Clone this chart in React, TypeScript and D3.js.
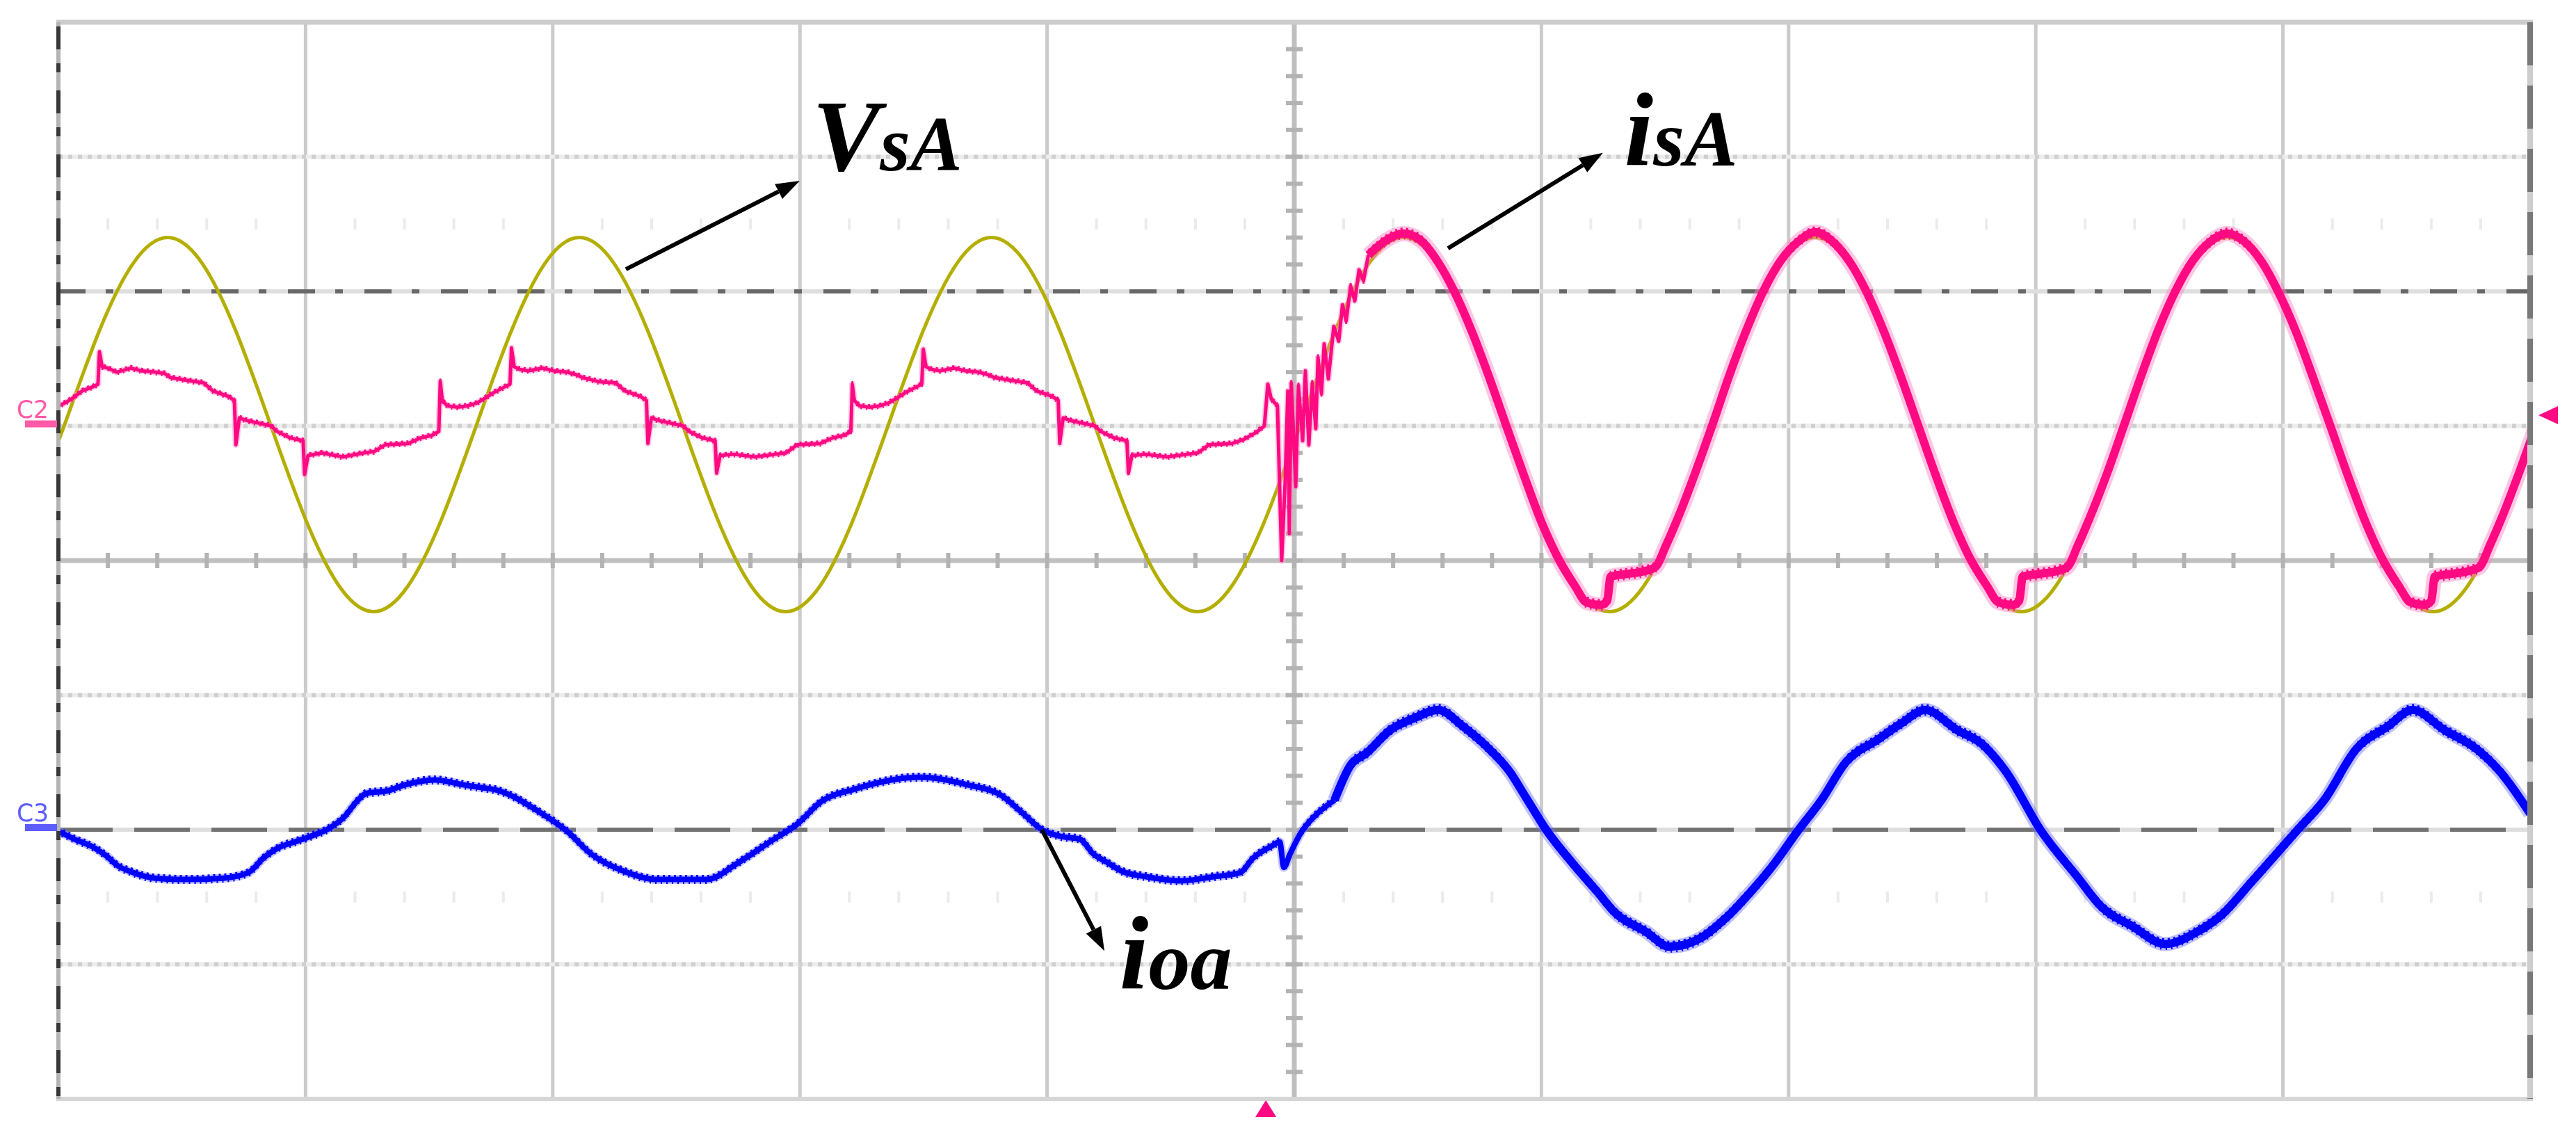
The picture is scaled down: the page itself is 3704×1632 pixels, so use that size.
import React from "react";
import * as d3 from "d3";

// ---- axes: time in ms (10 ms/div), amplitude in divisions ----
const timeGrid = [0, 10, 20, 30, 40, 50, 60, 70, 80, 90, 100];
const divGrid = [-4, -3, -2, -1, 0, 1, 2, 3, 4];

// ---- source voltage VsA (yellow) [t ms, div] ----
const vsA: [number, number][] = [
  [-1.14, 0.32], [0.25, 1.01], [1.64, 1.7], [3.03, 2.21], [4.42, 2.4], [5.81, 2.21], [7.19, 1.7], [8.58, 1.01],
  [9.97, 0.32], [11.36, -0.19], [12.75, -0.38], [14.14, -0.19], [15.53, 0.32], [16.92, 1.01], [18.31, 1.7],
  [19.69, 2.21], [21.08, 2.4], [22.47, 2.21], [23.86, 1.7], [25.25, 1.01], [26.64, 0.32], [28.03, -0.19],
  [29.42, -0.38], [30.81, -0.19], [32.19, 0.32], [33.58, 1.01], [34.97, 1.7], [36.36, 2.21], [37.75, 2.4],
  [39.14, 2.21], [40.53, 1.7], [41.92, 1.01], [43.31, 0.32], [44.69, -0.19], [46.08, -0.38], [47.47, -0.19],
  [48.86, 0.32], [50.25, 1.01], [51.64, 1.7], [53.03, 2.21], [54.42, 2.4], [55.81, 2.21], [57.19, 1.7],
  [58.58, 1.01], [59.97, 0.32], [61.36, -0.19], [62.75, -0.38], [64.14, -0.19], [65.53, 0.32], [66.92, 1.01],
  [68.31, 1.7], [69.69, 2.21], [71.08, 2.4], [72.47, 2.21], [73.86, 1.7], [75.25, 1.01], [76.64, 0.32],
  [78.03, -0.19], [79.42, -0.38], [80.81, -0.19], [82.19, 0.32], [83.58, 1.01], [84.97, 1.7], [86.36, 2.21],
  [87.75, 2.4], [89.14, 2.21], [90.53, 1.7], [91.92, 1.01], [93.31, 0.32], [94.69, -0.19], [96.08, -0.38],
  [97.47, -0.19], [98.86, 0.32], [100.25, 1.01],
];

// ---- source current isA before compensation (pink, left half incl. transient) ----
const isALeft: [number, number][] = [
  [0, 1.15], [0.25, 1.17], [0.53, 1.2], [0.96, 1.26], [1.38, 1.29], [1.6, 1.31], [1.66, 1.55], [1.77, 1.44],
  [2.0, 1.43], [2.36, 1.4], [2.93, 1.43], [3.35, 1.41], [3.91, 1.4], [4.3, 1.39], [4.53, 1.36], [5.18, 1.34],
  [5.88, 1.32], [6.25, 1.26], [6.87, 1.22], [7.12, 1.19], [7.18, 0.86], [7.32, 1.06], [7.63, 1.04], [8.13, 1.02],
  [8.61, 1.0], [8.84, 0.96], [9.4, 0.91], [9.9, 0.89], [9.96, 0.64], [10.1, 0.78], [10.66, 0.8], [11.51, 0.77],
  [12.35, 0.8], [12.77, 0.81], [13.22, 0.86], [14.15, 0.87], [14.63, 0.91], [15.11, 0.93], [15.39, 0.96],
  [15.45, 1.33], [15.53, 1.19], [15.73, 1.15], [16.15, 1.14], [16.57, 1.15],
  [16.92, 1.17], [17.2, 1.2], [17.63, 1.25], [18.05, 1.29], [18.27, 1.31], [18.33, 1.58], [18.44, 1.44],
  [18.67, 1.42], [19.03, 1.41], [19.6, 1.43], [20.02, 1.41], [20.58, 1.4], [20.97, 1.38], [21.2, 1.36],
  [21.85, 1.33], [22.55, 1.32], [22.92, 1.26], [23.54, 1.22], [23.79, 1.19], [23.85, 0.87], [23.99, 1.06],
  [24.3, 1.04], [24.8, 1.02], [25.28, 1.0], [25.51, 0.96], [26.07, 0.91], [26.57, 0.89], [26.63, 0.65],
  [26.77, 0.78], [27.33, 0.79], [28.18, 0.77], [29.02, 0.79], [29.44, 0.8], [29.89, 0.86], [30.82, 0.87],
  [31.3, 0.91], [31.78, 0.93], [32.06, 0.96], [32.12, 1.31], [32.2, 1.19], [32.4, 1.15], [32.82, 1.14],
  [33.24, 1.15],
  [33.58, 1.17], [33.86, 1.2], [34.29, 1.25], [34.71, 1.29], [34.93, 1.31], [34.99, 1.57], [35.1, 1.44],
  [35.33, 1.42], [35.69, 1.41], [36.26, 1.43], [36.68, 1.41], [37.24, 1.4], [37.63, 1.38], [37.86, 1.36],
  [38.51, 1.34], [39.21, 1.32], [39.58, 1.26], [40.2, 1.22], [40.45, 1.19], [40.51, 0.87], [40.65, 1.06],
  [40.96, 1.04], [41.46, 1.02], [41.94, 1.0], [42.17, 0.96], [42.73, 0.91], [43.23, 0.89], [43.29, 0.65],
  [43.43, 0.78], [43.99, 0.79], [44.84, 0.77], [45.68, 0.79], [46.1, 0.8], [46.55, 0.86], [47.48, 0.87],
  [47.96, 0.9], [48.44, 0.95], [48.79, 1.0],
  // switching transient
  [48.93, 1.31], [49.07, 1.2], [49.32, 1.15], [49.49, 0.0], [49.63, 0.58], [49.74, 1.26], [49.8, 0.2],
  [49.88, 1.32], [50.06, 0.55], [50.17, 1.3], [50.34, 0.89], [50.45, 1.41], [50.59, 0.86], [50.73, 1.32],
  [50.87, 0.98], [50.96, 1.51], [51.1, 1.24], [51.21, 1.61], [51.38, 1.35], [51.6, 1.74], [51.8, 1.63],
  [51.95, 1.9], [52.1, 1.78], [52.28, 2.04], [52.45, 1.93], [52.62, 2.16], [52.8, 2.08], [53.0, 2.27],
];

// ---- source current isA after compensation (pink, right half) ----
const isARight: [number, number][] = [
  [53.0, 2.27], [53.36, 2.33], [53.72, 2.38], [54.42, 2.43], [55.11, 2.38], [55.81, 2.22],
  [56.5, 1.99], [57.19, 1.7], [57.89, 1.36], [58.58, 1.0], [59.28, 0.64], [59.97, 0.3], [60.67, 0.02],
  [61.36, -0.19], [61.82, -0.31], [62.38, -0.33], [62.66, -0.3], [62.8, -0.12], [63.44, -0.1], [64.14, -0.08],
  [64.6, -0.05], [65.06, 0.12], [65.53, 0.32], [66.22, 0.65],
  [66.92, 1.01], [67.61, 1.38], [68.31, 1.72], [69.0, 2.01], [69.69, 2.23], [70.39, 2.37], [71.08, 2.44],
  [71.78, 2.37], [72.47, 2.22], [73.17, 1.99], [73.86, 1.7], [74.56, 1.36], [75.25, 1.0], [75.94, 0.64],
  [76.64, 0.3], [77.33, 0.02], [78.03, -0.19], [78.49, -0.31], [79.05, -0.33], [79.33, -0.3], [79.47, -0.12],
  [80.11, -0.1], [80.81, -0.08], [81.27, -0.05], [81.72, 0.12], [82.19, 0.32], [82.89, 0.65],
  [83.58, 1.01], [84.28, 1.38], [84.97, 1.72], [85.67, 2.01], [86.36, 2.23], [87.06, 2.37], [87.75, 2.43],
  [88.44, 2.37], [89.14, 2.22], [89.83, 1.99], [90.53, 1.7], [91.22, 1.36], [91.92, 1.0], [92.61, 0.64],
  [93.31, 0.3], [94.0, 0.02], [94.69, -0.19], [95.16, -0.31], [95.72, -0.33], [96.0, -0.3], [96.14, -0.12],
  [96.78, -0.1], [97.47, -0.08], [97.94, -0.05], [98.39, 0.12], [98.86, 0.32], [99.55, 0.65], [100.25, 1.01],
];

// ---- load current ioa (blue) ----
const ioaLeft: [number, number][] = [
  [0, -2.01], [0.65, -2.07], [1.41, -2.13], [1.91, -2.19], [2.42, -2.27], [2.9, -2.31], [3.91, -2.36],
  [5.18, -2.37], [6.67, -2.36], [7.68, -2.32], [8.3, -2.21], [8.95, -2.13], [9.57, -2.09], [10.19, -2.05],
  [10.95, -1.99], [11.59, -1.9], [12.07, -1.79], [12.46, -1.73], [13.34, -1.71], [13.96, -1.67], [15.22, -1.63],
  [16.49, -1.67], [17.22, -1.69], [17.59, -1.7], [19.56, -1.88], [20.57, -2.01], [21.55, -2.18], [22.9, -2.31],
  [24.23, -2.37], [26.22, -2.37], [27.55, -2.24], [28.87, -2.08], [29.88, -1.96], [30.87, -1.79], [32.19, -1.7],
  [34.86, -1.61], [36.86, -1.67], [38.1, -1.74], [38.97, -1.87], [39.79, -2.0], [40.57, -2.05], [41.33, -2.07],
  [41.87, -2.18], [42.4, -2.24], [43.05, -2.31], [44.03, -2.35], [45.44, -2.38], [46.71, -2.35], [47.8, -2.32],
  [48.34, -2.21], [49.1, -2.12], [49.41, -2.09], [49.58, -2.28], [49.83, -2.18], [50.28, -2.02], [50.82, -1.9],
  [51.63, -1.78],
];
const ioaRight: [number, number][] = [
  [51.63, -1.78], [52.28, -1.52], [52.93, -1.43], [53.88, -1.26], [54.87, -1.17], [55.82, -1.11], [56.81, -1.23],
  [57.77, -1.38], [58.72, -1.57], [59.37, -1.76], [60.19, -2.0], [61.31, -2.26], [62.3, -2.47], [62.94, -2.61],
  [64.24, -2.76], [65.19, -2.87], [66.49, -2.8], [67.44, -2.66], [68.43, -2.47], [69.39, -2.26], [70.37, -2.01],
  [71.33, -1.78], [72.31, -1.5], [73.61, -1.33], [74.56, -1.21], [75.52, -1.11], [76.82, -1.26], [77.8, -1.36],
  [78.76, -1.56], [80.22, -2.01], [81.68, -2.35], [82.64, -2.57], [83.93, -2.72], [85.23, -2.85], [86.52, -2.76],
  [87.48, -2.64], [88.77, -2.38], [90.55, -2.01], [91.67, -1.78], [92.97, -1.4], [94.26, -1.23], [95.24, -1.11],
  [96.54, -1.26], [97.83, -1.4], [98.79, -1.57], [100, -1.88],
];

// ---- annotations (data coordinates) ----
const annotations = [
  { main: "V", sub: "sA", text: [30.5, 2.9], mainSize: 146, subSize: 112, from: [22.96, 2.165], to: [29.99, 2.822] },
  { main: "i", sub: "sA", text: [63.35, 2.935], mainSize: 150, subSize: 115, from: [56.22, 2.32], to: [62.49, 3.03] },
  { main: "i", sub: "oa", text: [42.93, -3.183], mainSize: 150, subSize: 120, from: [39.79, -2.0], to: [42.32, -2.9] },
];
const channelMarks = [
  { name: "C2", level: 1.0, color: "#ff5aa8" },
  { name: "C3", level: -2.0, color: "#5c5cff" },
];
const triggerLevel = 1.08;
const triggerTime = 48.85;

export default function App() {
  const x = d3.scaleLinear().domain([0, 100]).range([84, 3638]);
  const y = d3.scaleLinear().domain([-4, 4]).range([1580, 32]);
  const X0 = x(0), X1 = x(100), Y0 = y(4), Y1 = y(-4);

  const mk = (curve: any) =>
    d3.line<[number, number]>().x((d) => x(d[0])).y((d) => y(d[1])).curve(curve);
  const natural = mk(d3.curveNatural);
  const linear = mk(d3.curveLinear);
  const mono = mk(d3.curveMonotoneX);

  const minorY = d3.range(-4, 4.0001, 0.2);
  const minorX = d3.range(0, 100.001, 2);

  const serif = "Liberation Serif, Times New Roman, Times, serif";

  // noisy-trace helper: solid core + hairy dashed copies offset up/down
  const hairy = (d: string, color: string, core: number, off: number, halo: string, haloW: number, key: string) => (
    <g key={key}>
      <path d={d} stroke={halo} strokeWidth={haloW} opacity={0.45} />
      <path d={d} stroke={color} strokeWidth={core} />
      <path d={d} stroke={color} strokeWidth={3} strokeDasharray="3 5" transform={`translate(0,${-off})`} />
      <path d={d} stroke={color} strokeWidth={3} strokeDasharray="2 6" strokeDashoffset={3} transform={`translate(0,${off})`} />
    </g>
  );

  return (
    <svg width={3704} height={1632} style={{ position: "absolute", left: 0, top: 0, background: "#fff" }}>
      <defs>
        <clipPath id="plotClip">
          <rect x={X0} y={Y0} width={X1 - X0} height={Y1 - Y0} />
        </clipPath>
      </defs>
      <rect x={0} y={0} width={3704} height={1632} fill="#ffffff" />

      {/* vertical grid */}
      {timeGrid.filter((t) => t !== 0 && t !== 100 && t !== 50).map((t) => (
        <line key={"vg" + t} x1={x(t)} x2={x(t)} y1={Y0} y2={Y1} stroke="#cbcbcb" strokeWidth={5} />
      ))}
      {/* horizontal grid */}
      {divGrid.filter((v) => Math.abs(v) === 1 || Math.abs(v) === 3).map((v) => (
        <g key={"hg" + v}>
          <line x1={X0} x2={X1} y1={y(v)} y2={y(v)} stroke="#ececec" strokeWidth={6} />
          <line x1={X0} x2={X1} y1={y(v)} y2={y(v)} stroke="#cfcfcf" strokeWidth={6} strokeDasharray="6 8" />
        </g>
      ))}
      {/* faint ghost ticks */}
      {[2.5, -2.5].map((v) =>
        minorX.filter((t) => t % 10 !== 0).map((t) => (
          <line key={"gt" + v + t} x1={x(t)} x2={x(t)} y1={y(v) - 8} y2={y(v) + 8} stroke="#ebebeb" strokeWidth={4} />
        ))
      )}
      {/* dash-dot cursor lines */}
      <line x1={X0} x2={X1} y1={y(2)} y2={y(2)} stroke="#dedede" strokeWidth={6} />
      <line x1={X0} x2={X1} y1={y(2)} y2={y(2)} stroke="#676767" strokeWidth={6} strokeDasharray="39 29 11 31" />
      <line x1={X0} x2={X1} y1={y(-2)} y2={y(-2)} stroke="#dedede" strokeWidth={6} />
      <line x1={X0 - 2} x2={X1} y1={y(-2)} y2={y(-2)} stroke="#727272" strokeWidth={6} strokeDasharray="80 31" />

      {/* center axes with ticks */}
      <line x1={x(50)} x2={x(50)} y1={Y0} y2={Y1} stroke="#bfbfbf" strokeWidth={7} />
      <line x1={X0} x2={X1} y1={y(0)} y2={y(0)} stroke="#bfbfbf" strokeWidth={7} />
      {minorY.map((v) => (
        <line key={"cy" + v} x1={x(50) - 12} x2={x(50) + 12} y1={y(v)} y2={y(v)} stroke="#b3b3b3" strokeWidth={6} />
      ))}
      {minorX.map((t) => (
        <line key={"cx" + t} x1={x(t)} x2={x(t)} y1={y(0) - 11} y2={y(0) + 11} stroke="#b3b3b3" strokeWidth={6} />
      ))}

      {/* traces */}
      <g clipPath="url(#plotClip)" fill="none" strokeLinejoin="round" strokeLinecap="butt">
        <path d={natural(vsA) || ""} stroke="#b4ae00" strokeWidth={5} />

        {hairy(linear(isALeft) || "", "#ff0a82", 5, 3, "#ff8cc6", 9, "pl")}
        {hairy(mono(isARight) || "", "#ff0a82", 12, 7, "#ff80c0", 22, "pr")}
        {hairy(mono(ioaLeft) || "", "#0000ff", 8, 5, "#8080ff", 13, "bl")}
        {hairy(mono(ioaRight) || "", "#0000ff", 12, 7, "#7070ff", 20, "br")}
      </g>

      {/* borders */}
      <line x1={X0 - 3} x2={X1 + 4} y1={Y0} y2={Y0} stroke="#cccccc" strokeWidth={7} />
      <line x1={X0 - 3} x2={X1 + 4} y1={Y1} y2={Y1} stroke="#d6d6d6" strokeWidth={6} />
      <line x1={X0} x2={X0} y1={Y0} y2={Y1} stroke="#b4b4b4" strokeWidth={6} />
      <line x1={X0} x2={X0} y1={Y0} y2={Y1} stroke="#383838" strokeWidth={6} strokeDasharray="33 20 13 26" strokeDashoffset={-6} />
      <line x1={X1} x2={X1} y1={Y0} y2={Y1} stroke="#cdcdcd" strokeWidth={8} />
      <line x1={X1} x2={X1} y1={Y0} y2={Y1} stroke="#787878" strokeWidth={8} strokeDasharray="62 29" />

      {/* channel markers */}
      {channelMarks.map((c) => (
        <g key={c.name}>
          <text x={24} y={y(c.level) - 12} fontSize={36} fontFamily="DejaVu Sans, sans-serif"
            fill={c.color} textLength={46} lengthAdjust="spacingAndGlyphs">{c.name}</text>
          <rect x={36} y={y(c.level) - 8} width={46} height={10} fill={c.color} />
        </g>
      ))}
      {/* trigger markers */}
      <polygon
        points={`${X1 + 12},${y(triggerLevel)} ${X1 + 40},${y(triggerLevel) - 13} ${X1 + 40},${y(triggerLevel) + 13}`}
        fill="#ff0a82" />
      <polygon
        points={`${x(triggerTime)},${Y1 + 2} ${x(triggerTime) - 15},${Y1 + 26} ${x(triggerTime) + 15},${Y1 + 26}`}
        fill="#ff0a82" />

      {/* annotations */}
      {annotations.map((a, i) => {
        const fx = x(a.from[0]), fy = y(a.from[1]);
        const tx = x(a.to[0]), ty = y(a.to[1]);
        const ang = Math.atan2(ty - fy, tx - fx);
        const L = 34, Wd = 12;
        const bx = tx - L * Math.cos(ang), by = ty - L * Math.sin(ang);
        const px = -Math.sin(ang) * Wd, py = Math.cos(ang) * Wd;
        return (
          <g key={"an" + i}>
            <line x1={fx} y1={fy} x2={bx} y2={by} stroke="#000" strokeWidth={6} />
            <polygon points={`${tx},${ty} ${bx + px},${by + py} ${bx - px},${by - py}`} fill="#000" />
            <text x={x(a.text[0])} y={y(a.text[1])} fontFamily={serif} fontWeight="bold" fontStyle="italic" fill="#000">
              <tspan fontSize={a.mainSize}>{a.main}</tspan>
              <tspan fontSize={a.subSize}>{a.sub}</tspan>
            </text>
          </g>
        );
      })}
    </svg>
  );
}
